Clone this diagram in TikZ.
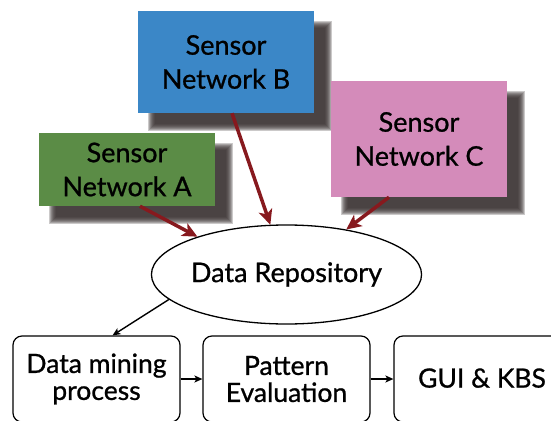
\documentclass[tikz,border=0pt]{standalone}
\usepackage{fontspec}
\setmainfont{Lato}[FakeBold=0.9]
\usetikzlibrary{arrows.meta,shapes.geometric,calc}
\pgfdeclarelayer{bg}
\pgfsetlayers{bg,main}
\definecolor{gA}{RGB}{91,140,70}
\definecolor{bB}{RGB}{59,135,199}
\definecolor{pC}{RGB}{212,139,186}
\definecolor{redarr}{RGB}{135,25,30}
\definecolor{shadowc}{RGB}{56,48,48}
\tikzset{
  sensor/.style={draw=none, minimum width=176pt, inner sep=0pt, align=center,
    font=\fontsize{27}{34}\selectfont},
  procbox/.style={draw, line width=1.2pt, rounded corners=9pt, minimum width=167pt,
    minimum height=86pt, inner sep=0pt, align=center, font=\fontsize{26.5}{27}\selectfont},
  redarrow/.style={draw=redarr, line width=3.5pt,
    -{Stealth[length=15pt,width=14pt,inset=4pt]}},
  blackarrow/.style={draw, line width=1.4pt, -{Stealth[length=8pt,width=7pt,inset=2pt]}},
}
\newcommand\mkshadow[1]{%
  \begin{pgfonlayer}{bg}
  \foreach \k in {0,...,7}{
    \fill[shadowc, opacity=0.26] ($(#1.north west)+(14+\k*0.9-3.5,14+\k*0.9-3.5)$)
      rectangle ($(#1.south east)+(14-\k*0.9+3.5,14-\k*0.9+3.5)$);
  }
  \end{pgfonlayer}}
\begin{document}
\begin{tikzpicture}[x=1pt,y=-1pt]
\useasboundingbox (0,0) rectangle (551,420);
\clip (0,0) rectangle (551,420);

\node[sensor, fill=gA, minimum height=73pt] (A) at (127,169.5) {Sensor\\Network A};
\mkshadow{A}
\node[sensor, fill=bB, minimum height=102pt] (B) at (226,62) {Sensor\\Network B};
\mkshadow{B}
\node[sensor, fill=pC, minimum height=116pt] (C) at (419,139) {Sensor\\Network C};
\mkshadow{C}

\node[draw, ellipse, line width=1.3pt, minimum width=241pt, minimum height=99pt,
  inner sep=0pt, font=\fontsize{27}{30}\selectfont] (repo) at (286.5,274.5) {Data Repository};

\node[procbox] (dm) at (96.5,379) {Data mining\\process};
\node[procbox] (pe) at (286.5,379) {Pattern\\Evaluation};
\node[procbox, minimum width=176pt] (gui) at (482,379) {\raisebox{2pt}{GUI \& KBS}};

\draw[redarrow] ($(A.south)+(13,0)$) -- (repo.157);
\draw[redarrow] ($(B.south)+(6,0)$) -- (repo.108);
\draw[redarrow] ($(C.south)+(-30,0)$) -- (repo.37);

\draw[blackarrow] (repo.192) -- ($(dm.north)+(16,0)$);
\draw[blackarrow] (dm.east) -- (pe.west);
\draw[blackarrow] (pe.east) -- (gui.west);
\end{tikzpicture}
\end{document}
